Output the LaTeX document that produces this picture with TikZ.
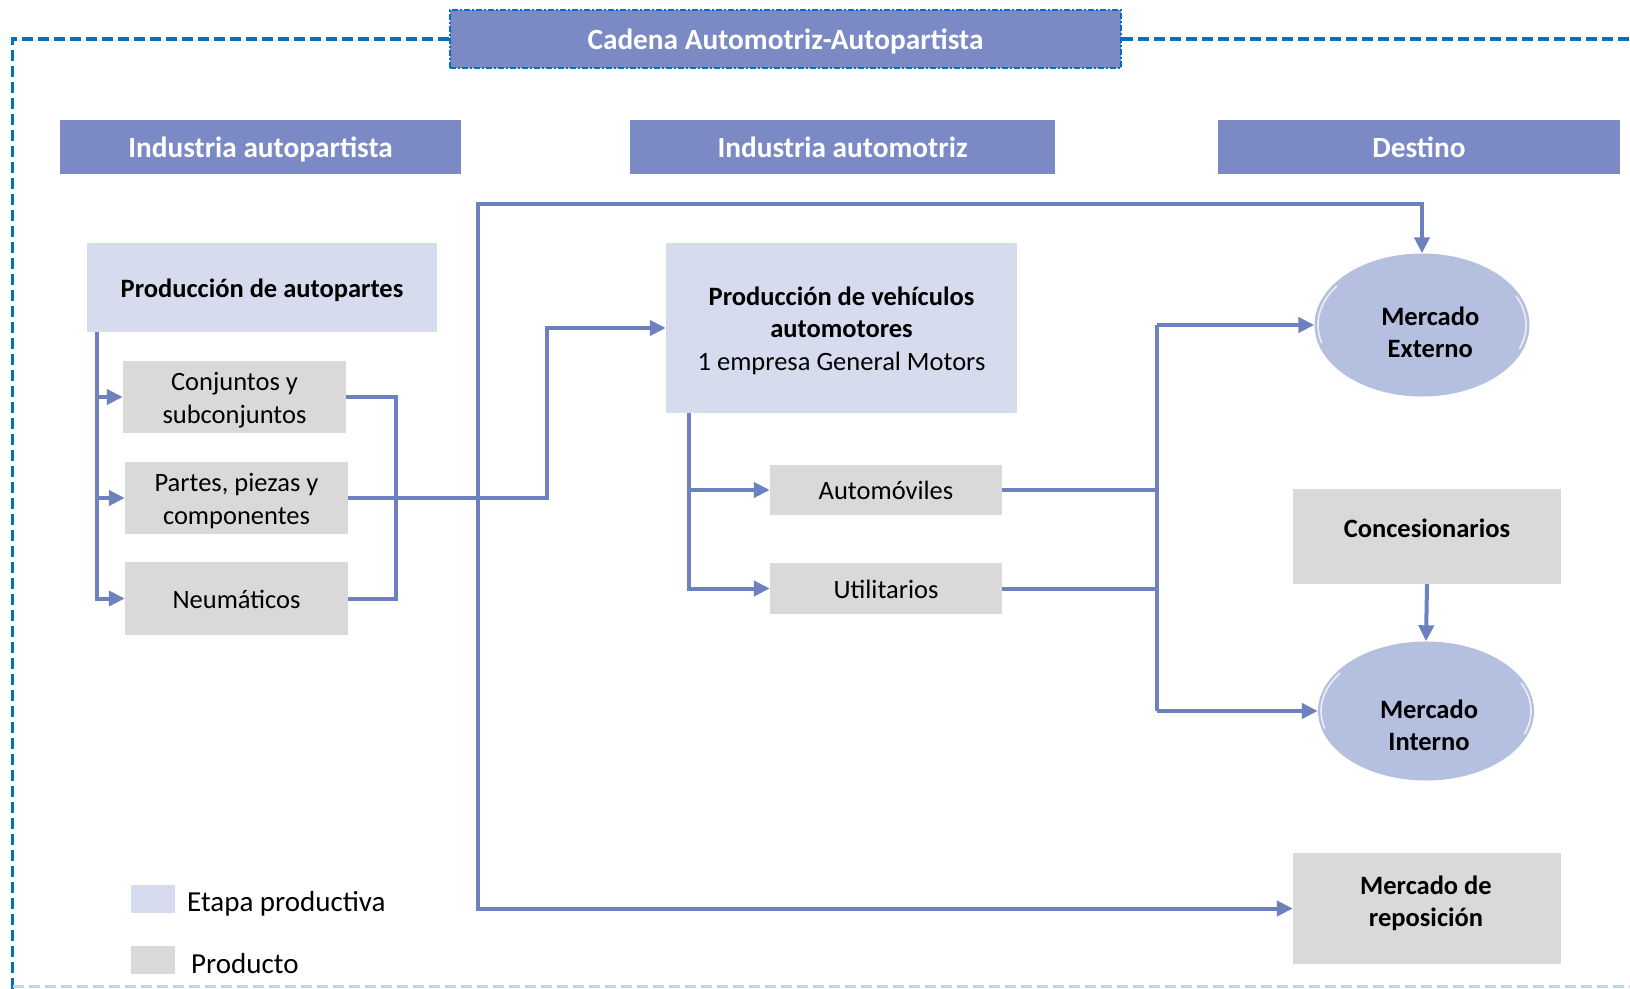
\documentclass[tikz,border=0pt]{standalone}
\usepackage{fontspec}
\setmainfont{Carlito}
\usetikzlibrary{arrows.meta,shapes.geometric}
\definecolor{hdr}{HTML}{7B8AC4}
\definecolor{stage}{HTML}{D6DCED}
\definecolor{prod}{HTML}{D9D9D9}
\definecolor{ell}{HTML}{B5BFDF}
\definecolor{conn}{HTML}{6D81BE}
\definecolor{frameblue}{HTML}{0070C0}
\definecolor{framelight}{HTML}{BDD7EE}
\newcommand\mytstrut{\rule{0pt}{0.95em}}
\newcommand\mybstrut{\rule[-0.2em]{0pt}{0.2em}}
\tikzset{
  struts/.style={execute at begin node=\mytstrut, execute at end node=\mybstrut},
  hdrbox/.style={fill=hdr, text=white, font=\fontsize{29.3}{34}\selectfont\bfseries, inner sep=0pt, anchor=center, struts},
  stagebox/.style={fill=stage, inner sep=0pt, align=center, font=\fontsize{26.5}{32.3}\selectfont, struts},
  prodbox/.style={fill=prod, inner sep=0pt, align=center, font=\fontsize{26.5}{32.3}\selectfont, struts},
  plainbox/.style={fill=prod, inner sep=0pt},
  ellbox/.style={ellipse, fill=ell, inner sep=0pt},
  lbl/.style={inner sep=0pt, align=center, font=\fontsize{26.5}{32.3}\selectfont\bfseries},
  glow/.style={draw=white, line width=1.6pt, opacity=0.75, line cap=round},
  line/.style={draw=conn, line width=4pt},
  arr/.style={draw=conn, line width=4pt, -{Triangle[length=16pt,width=15pt]}},
  frameline/.style={draw=frameblue, line width=3.3pt, dash pattern=on 11pt off 5pt},
}
\begin{document}
\begin{tikzpicture}[x=1pt,y=-1pt]
\useasboundingbox (0,0) rectangle (1630,988);
% title
\node[hdrbox, minimum width=671pt, minimum height=58pt, draw=frameblue, line width=1.3pt,
      dash pattern=on 6pt off 2pt on 2pt off 2pt] (title) at (785.5,39) {Cadena Automotriz-Autopartista};
% outer frame
\draw[frameline] (title.west) -- (12.5,39) -- (12.5,992);
\draw[frameline] (title.east) -- (1640,39);
\draw[draw=framelight, line width=2.5pt, dash pattern=on 11pt off 5pt] (12.5,986.5) -- (1630,986.5);
% headers
\node[hdrbox, minimum width=401pt, minimum height=54pt] (h1) at (260.5,147) {Industria autopartista};
\node[hdrbox, minimum width=425pt, minimum height=54pt] (h2) at (842.5,147) {Industria automotriz};
\node[hdrbox, minimum width=402pt, minimum height=54pt] (h3) at (1419,147) {Destino};
% boxes
\node[stagebox, minimum width=350pt, minimum height=89pt] (pa) at (262,287.5) {\bfseries Producción de autopartes};
\node[prodbox, minimum width=223pt, minimum height=72pt] (c1) at (234.5,397) {\mytstrut Conjuntos y\\subconjuntos\mybstrut};
\node[prodbox, minimum width=223pt, minimum height=72pt] (c2) at (236.5,498) {\mytstrut Partes, piezas y\\componentes\mybstrut};
\node[prodbox, minimum width=223pt, minimum height=73pt] (c3) at (236.5,598.5) {Neumáticos};
\node[stagebox, minimum width=351pt, minimum height=170pt] (pv) at (841.5,328) {\mytstrut\bfseries Producción de vehículos\\\bfseries automotores\\1 empresa General Motors\mybstrut};
\node[prodbox, minimum width=232pt, minimum height=50pt] (auto) at (886,490) {Automóviles};
\node[prodbox, minimum width=232pt, minimum height=51pt] (util) at (886,588.5) {Utilitarios};
\node[ellbox, minimum width=215pt, minimum height=143pt,
      label={[lbl, xshift=8.3pt, yshift=-7.3pt]center:{Mercado\\Externo}}] (me) at (1422,325) {};
\node[ellbox, minimum width=216pt, minimum height=139pt,
      label={[lbl, xshift=3pt, yshift=-14.5pt]center:{Mercado\\Interno}}] (mi) at (1426,711) {};
\node[plainbox, minimum width=268pt, minimum height=95pt,
      label={[lbl, yshift=8.3pt]center:{Concesionarios}}] (con) at (1427,536.5) {};
\node[plainbox, minimum width=268pt, minimum height=111pt,
      label={[lbl, xshift=-1pt, yshift=5.2pt]center:{Mercado de\\reposición}}] (mr) at (1427,908.5) {};
% ellipse highlights
\draw[glow] (me.center) ++(165:104 and 68) arc (165:215:104 and 68);
\draw[glow] (me.center) ++(-25:104 and 68) arc (-25:20:104 and 68);
\draw[glow] (mi.center) ++(165:105 and 66) arc (165:215:105 and 66);
\draw[glow] (mi.center) ++(-25:105 and 66) arc (-25:20:105 and 66);
% legend
\node[fill=stage, minimum width=44pt, minimum height=28pt, inner sep=0pt] (lg1) at (153,899) {};
\node[anchor=west, inner sep=0pt, font=\fontsize{29}{34}\selectfont] (lt1) at (187,904) {Etapa productiva};
\node[fill=prod, minimum width=44pt, minimum height=28pt, inner sep=0pt] (lg2) at (153,960) {};
\node[anchor=west, inner sep=0pt, font=\fontsize{29}{34}\selectfont] (lt2) at (191,964) {Producto};
% coordinates
\coordinate (ax) at (97,0);
\coordinate (bx) at (396,0);
\coordinate (jx) at (547,0);
\coordinate (lt) at (478,204);
\coordinate (lb) at (478,908.5);
\coordinate (vx) at (689,0);
\coordinate (dx) at (1157,0);
% autopartes branches
\draw[arr] (pa.south -| ax) |- (c1.west);
\draw[arr] (pa.south -| ax) |- (c2.west);
\draw[arr] (pa.south -| ax) |- (c3.west);
% bracket
\draw[line] (c1.east) -- (c1.east -| bx) -- (c3.east -| bx) -- (c3.east);
\draw[arr] (c2.east) -- (c2.east -| jx) |- (pv.west);
% big loop
\draw[arr] (lb) -- (lt) -| (me.north);
\draw[arr] (lt) |- (mr.west);
% vehicles
\draw[arr] (pv.south -| vx) |- (auto.west);
\draw[arr] (pv.south -| vx) |- (util.west);
\draw[line] (auto.east) -- (auto.east -| dx);
\draw[line] (util.east) -- (util.east -| dx);
\draw[line] (me.west -| dx) -- (mi.west -| dx);
\draw[arr] (me.west -| dx) -- (me.west);
\draw[arr] (mi.west -| dx) -- (mi.west);
\draw[arr] (con.south) -- (mi.north);
\end{tikzpicture}
\end{document}
